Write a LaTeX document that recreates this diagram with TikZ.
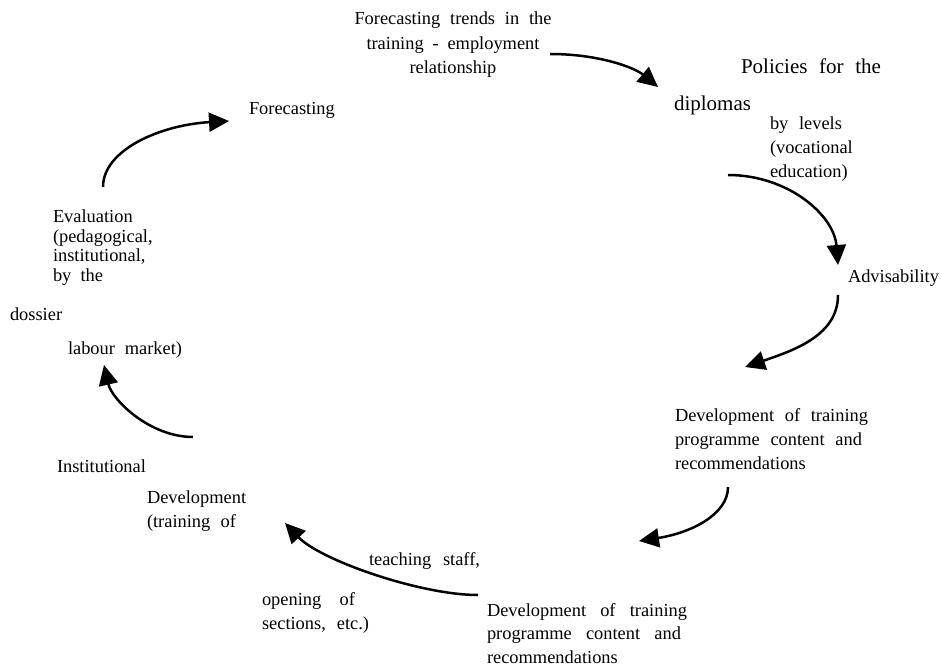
\documentclass[tikz,border=0pt]{standalone}
\usepackage{fontspec}
\setmainfont{Liberation Serif}
\usetikzlibrary{arrows.meta}

\newcommand\txtsize{\fontsize{18.4pt}{24.5pt}\selectfont}
\newcommand\bigsize{\fontsize{21pt}{26pt}\selectfont}
% lines stacked at a fixed baseline distance; the box baseline is the first line's
\newcommand\stackln[2]{\vtop{\baselineskip=#1\lineskiplimit=-\maxdimen\lineskip=0pt #2}}
% one line spread to a given width
\newcommand\tline[2]{\hbox{\makebox[#1][s]{#2}}}
% one line spread to a width and centred in a wider box
\newcommand\centline[3]{\hbox to #1{\hss\makebox[#2][s]{#3}\hss}}

\tikzset{
  lbl/.style={inner sep=0pt, outer sep=0pt, anchor=base west, font=\txtsize},
  flow/.style={line width=2.5pt, -{Triangle[length=20pt,width=19pt]}},
}

\begin{document}
\begin{tikzpicture}[x=1pt,y=-1pt]
\useasboundingbox (0,0) rectangle (942,668);

% ---- labels of the cycle ----
\node[lbl, anchor=base] (trend) at (453,25) {\stackln{24.5pt}{%
  \centline{197pt}{197pt}{Forecasting trends in the}%
  \centline{197pt}{173pt}{training - employment}%
  \centline{197pt}{87pt}{relationship}}};

\node[lbl, font=\bigsize] (policies) at (741,74) {\makebox[140pt][s]{Policies for the}};
\node[lbl, font=\bigsize] (diplomas) at (674,111) {diplomas};
\node[lbl] (levels) at (770,130) {\stackln{24pt}{%
  \tline{72pt}{by levels}\hbox{(vocational}\hbox{education)}}};

\node[lbl] (advis) at (848,283) {Advisability};

\node[lbl] (devA) at (675,421) {\stackln{24pt}{%
  \tline{193pt}{Development of training}%
  \tline{187pt}{programme content and}%
  \hbox{recommendations}}};

\node[lbl] (devB) at (487,616) {\stackln{23.5pt}{%
  \tline{200pt}{Development of training}%
  \tline{194pt}{programme content and}%
  \hbox{recommendations}}};

\node[lbl] (teach) at (369,565) {\makebox[111pt][s]{teaching staff,}};
\node[lbl] (opening) at (262,605) {\stackln{24pt}{%
  \tline{93pt}{opening of}\tline{107pt}{sections, etc.)}}};

\node[lbl] (instit) at (57,472) {Institutional};
\node[lbl] (instdev) at (147,503) {\stackln{24pt}{%
  \hbox{Development}\tline{89pt}{(training of}}};

\node[lbl] (labour) at (68,354) {\makebox[114pt][s]{labour market)}};
\node[lbl] (dossier) at (10,320) {dossier};
\node[lbl] (evalu) at (53,223) {\stackln{19.5pt}{%
  \hbox{Evaluation}\hbox{(pedagogical,}\hbox{institutional,}\tline{50pt}{by the}}};

\node[lbl] (forecast) at (249,115) {Forecasting};

% ---- ends of the arrows ----
\coordinate (a1s) at (550,54);  \coordinate (a1e) at (658,87);
\coordinate (a2s) at (728,175); \coordinate (a2e) at (838,265);
\coordinate (a3s) at (838,295); \coordinate (a3e) at (745,367);
\coordinate (a4s) at (728,487); \coordinate (a4e) at (639,541);
\coordinate (a5s) at (478,595); \coordinate (a5e) at (285,523);
\coordinate (a6s) at (193,437); \coordinate (a6e) at (104,365);
\coordinate (a7s) at (103,187); \coordinate (a7e) at (229,121);

% ---- arrows ----
\draw[flow] (a1s) .. controls +(50,0)  and +(-23,-19) .. (a1e);
\draw[flow] (a2s) .. controls +(60,0)  and +(-4,-50)  .. (a2e);
\draw[flow] (a3s) .. controls +(0,40)  and +(50,-17)  .. (a3e);
\draw[flow] (a4s) .. controls +(0,28)  and +(51,-8)   .. (a4e);
\draw[flow] (a5s) .. controls +(-58,0) and +(35,37)   .. (a5e);
\draw[flow] (a6s) .. controls +(-43,0) and +(8,35)    .. (a6e);
\draw[flow] (a7s) .. controls +(0,-37) and +(-69,4)   .. (a7e);
\end{tikzpicture}
\end{document}
